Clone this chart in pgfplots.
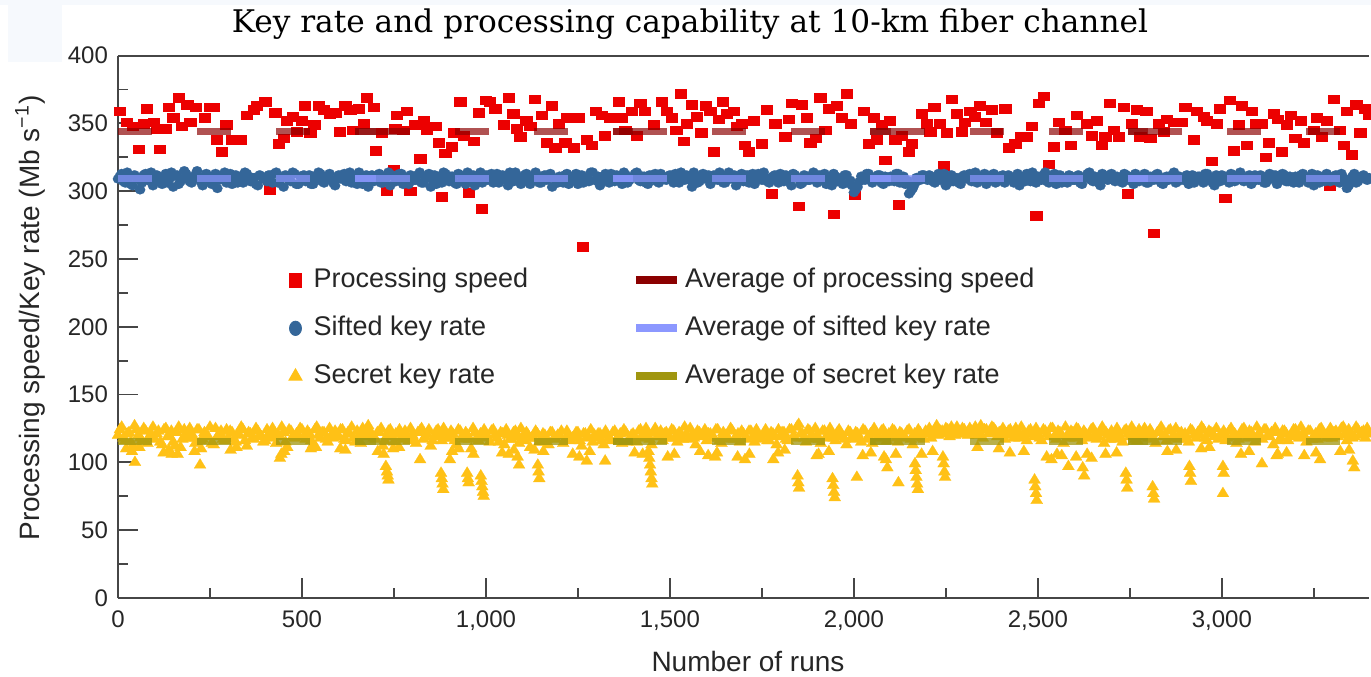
\documentclass[border=0pt]{standalone}
\usepackage{pgfplots}
\pgfplotsset{compat=1.18}
\usepackage{fontspec}
\setsansfont{Liberation Sans}
\newfontfamily\titlefont{DejaVu Serif}

\definecolor{procred}{RGB}{236,0,0}
\definecolor{siftblue}{RGB}{52,102,153}
\definecolor{secyellow}{RGB}{255,193,22}
\definecolor{avgred}{RGB}{139,0,0}
\definecolor{avgblue}{RGB}{140,152,255}
\definecolor{avgolive}{RGB}{160,150,15}
\definecolor{axisgray}{RGB}{70,70,70}
\definecolor{faintbg}{RGB}{246,249,253}

\pgfplotsset{
  legmark/.style={legend image code/.code={%
    \draw[##1] plot coordinates {(0pt,0pt)};
    \path[draw=none, fill=none] (-3.5pt,-3pt) rectangle (7pt,3pt);}},
  legline/.style={legend image code/.code={\draw[##1] (0pt,0pt) -- (20.5pt,0pt);}},
  procmarks/.style={forget plot, only marks, color=procred, mark=square*, mark size=2.15pt,
    mark options={solid, fill=procred, draw=procred, line width=0.1pt, xscale=1.3}},
  siftmarks/.style={forget plot, only marks, color=siftblue, mark=*, mark size=2.3pt,
    mark options={solid, fill=siftblue, draw=siftblue, line width=0.1pt, xscale=1.12}},
  secmarks/.style={forget plot, only marks, color=secyellow, mark=triangle*, mark size=3.3pt,
    mark options={solid, fill=secyellow, draw=secyellow, line width=0.1pt, xscale=1.05}},
  % averages are drawn per block of 700 runs, each block restarting its dashes
  avgbase/.style={forget plot, line width=3.5pt, draw opacity=0.68, dash pattern=on 17pt off 22.5pt},
  avgover/.style={forget plot, line width=3.5pt, draw opacity=0.68},
}

\begin{document}
\begin{tikzpicture}
\path[use as bounding box] (-59pt,-39pt) rectangle (626.5pt,299pt);
\fill[faintbg] (-59pt,296.5pt) rectangle (626.5pt,299pt);
\fill[faintbg] (-55pt,268pt) rectangle (-28pt,296.5pt);

\begin{axis}[
  at={(0pt,0pt)}, anchor=south west,
  scale only axis, width=625.5pt, height=271.25pt,
  xmin=0, xmax=3400, ymin=0, ymax=400,
  clip mode=individual,
  axis x line*=box, axis y line*=left,
  x axis line style={-}, y axis line style={-},
  axis line style={draw=axisgray, line width=1pt},
  xtick={0,500,...,3000}, ytick={0,50,...,400},
  minor xtick={250,750,...,3250}, minor ytick={25,75,...,375},
  xtick pos=bottom, ytick pos=left,
  tick align=inside,
  major tick length=10pt, minor tick length=5pt,
  major tick style={draw=axisgray, line width=0.9pt},
  minor tick style={draw=axisgray, line width=0.9pt},
  /pgf/number format/assume math mode=true,
  /pgf/number format/1000 sep={,},
  scaled x ticks=false,
  tick label style={font=\sffamily\fontsize{12}{14}\selectfont, text=black!85},
  xticklabel style={yshift=-3pt},
  yticklabel style={xshift=-1.5pt},
  xlabel={Number of runs},
  ylabel={Processing speed/Key rate (Mb s\textsuperscript{−1})},
  label style={font=\sffamily\fontsize{14}{16}\selectfont, text=black!85},
  xlabel style={at={(axis description cs:0.5036,-0.1161)}, anchor=center},
  ylabel style={at={(axis description cs:-0.0703,0.516)}, anchor=center},
  legend columns=2,
  legend cell align=left,
  legend style={at={(axis cs:446,250)}, anchor=north west, draw=none, fill=none,
    font=\sffamily\fontsize{13.5}{16}\selectfont, text=black!85,
    nodes={text height=10pt, text depth=3pt},
    row sep=7pt,
    /tikz/every even column/.append style={column sep=50pt}},
]

% legend entries
\addlegendimage{legmark, color=procred, mark=square*, mark size=3pt, mark options={fill=procred, draw=procred, yscale=1.15}}
\addlegendentry{Processing speed}
\addlegendimage{legline, draw=avgred, line width=4pt}
\addlegendentry{Average of processing speed}
\addlegendimage{legmark, color=siftblue, mark=*, mark size=3pt, mark options={fill=siftblue, draw=siftblue, yscale=1.2}}
\addlegendentry{Sifted key rate}
\addlegendimage{legline, draw=avgblue, line width=4pt}
\addlegendentry{Average of sifted key rate}
\addlegendimage{legmark, color=secyellow, mark=triangle*, mark size=3.8pt, mark options={fill=secyellow, draw=secyellow}}
\addlegendentry{Secret key rate}
\addlegendimage{legline, draw=avgolive, line width=4pt}
\addlegendentry{Average of secret key rate}

% processing speed
\addplot[procmarks] coordinates {
(5,359)(24,351)(40,348)(55,331)(69,350)(78,361)(96,351)(105,346)(114,331)(128,346)
(137,362)(150,354)(164,369)(173,348)(188,364)(196,351)(212,362)(236,354)(248,362)(259,362)
(268,338)(282,329)(294,349)(309,338)(332,338)(350,356)(368,360)(377,363)(400,366)(413,301)
(427,358)(436,335)(449,339)(459,352)(475,355)(486,344)(499,352)(508,363)(522,343)(533,349)
(545,363)(558,360)(576,357)(590,358)(603,344)(617,363)(631,360)(638,345)(653,361)(667,350)
(676,369)(694,362)(701,330)(717,343)(730,300)(748,316)(753,346)(757,356)(775,345)(785,359)
(794,300)(807,349)(821,324)(830,352)(839,345)(862,348)(871,336)(880,296)(889,328)(907,333)
(911,343)(930,366)(939,341)(952,299)(966,337)(979,358)(989,287)(998,367)(1011,366)(1025,361)
(1047,349)(1061,369)(1074,357)(1083,346)(1093,340)(1109,352)(1120,348)(1132,368)(1152,356)(1165,336)
(1179,363)(1188,332)(1197,350)(1215,336)(1220,354)(1238,332)(1251,354)(1263,259)(1274,338)(1288,334)
(1297,359)(1315,356)(1322,341)(1337,354)(1360,366)(1369,354)(1378,345)(1396,359)(1410,341)(1419,365)
(1432,359)(1455,349)(1478,366)(1491,359)(1505,354)(1517,345)(1528,372)(1537,337)(1546,350)(1559,364)
(1573,355)(1585,343)(1596,363)(1609,359)(1618,329)(1632,353)(1644,366)(1655,357)(1673,359)(1682,348)
(1695,350)(1704,334)(1713,329)(1727,352)(1750,335)(1763,360)(1777,298)(1786,350)(1813,340)(1822,353)
(1831,365)(1849,289)(1858,364)(1872,354)(1881,336)(1895,339)(1908,369)(1922,345)(1931,361)(1944,283)
(1953,363)(1967,354)(1981,372)(1990,350)(2003,297)(2026,359)(2040,335)(2053,354)(2062,338)(2076,349)
(2085,323)(2098,352)(2112,338)(2121,290)(2130,341)(2148,329)(2157,335)(2184,357)(2198,350)(2207,344)
(2218,362)(2234,350)(2243,319)(2252,343)(2266,368)(2280,357)(2293,344)(2302,351)(2316,359)(2329,355)
(2341,363)(2357,351)(2375,360)(2388,343)(2411,361)(2420,332)(2438,335)(2452,340)(2470,340)(2483,348)
(2495,282)(2502,365)(2515,370)(2529,320)(2542,333)(2556,351)(2574,345)(2588,334)(2606,356)(2633,350)
(2647,341)(2660,352)(2674,334)(2683,340)(2696,365)(2705,345)(2719,340)(2733,362)(2743,298)(2755,350)
(2769,360)(2778,340)(2794,359)(2805,339)(2814,269)(2828,350)(2841,344)(2850,353)(2868,351)(2891,351)
(2900,362)(2923,338)(2932,359)(2950,355)(2959,352)(2973,322)(2986,350)(2995,361)(3009,295)(3021,367)
(3032,330)(3045,349)(3054,363)(3068,334)(3081,359)(3091,350)(3109,350)(3118,325)(3127,336)(3140,357)
(3151,353)(3163,329)(3177,349)(3188,356)(3199,339)(3213,352)(3222,336)(3249,345)(3258,354)(3272,340)
(3285,352)(3294,304)(3304,368)(3321,345)(3330,334)(3340,359)(3353,327)(3365,364)(3376,343)(3389,361)
(3398,356)
};

% sifted key rate, even runs of ten
\addplot[siftmarks] coordinates {
(0,309)(10,313)(20,306)(30,311)(40,304)(50,310)(60,301)(70,312)(80,308)(90,314)
(100,307)(110,311)(120,305)(130,313)(140,309)(150,303)(160,312)(170,307)(180,315)(190,310)
(200,306)(210,312)(220,309)(230,304)(240,313)(250,308)(260,311)(270,302)(280,310)(290,314)
(300,308)(310,305)(320,312)(330,309)(340,306)(350,313)(360,307)(370,310)(380,304)(390,311)
(400,309)(410,312)(420,306)(430,314)(440,308)(450,303)(460,311)(470,307)(480,313)(490,305)
(500,310)(510,307)(520,312)(530,305)(540,309)(550,313)(560,306)(570,311)(580,308)(590,304)
(600,312)(610,309)(620,307)(630,314)(640,310)(650,305)(660,311)(670,308)(680,303)(690,312)
(700,308)(710,313)(720,306)(730,310)(740,304)(750,311)(760,309)(770,313)(780,307)(790,305)
(800,311)(810,308)(820,314)(830,306)(840,310)(850,303)(860,312)(870,309)(880,306)(890,313)
(900,307)(910,311)(920,305)(930,312)(940,309)(950,314)(960,308)(970,304)(980,310)(990,306)
(1000,312)(1010,309)(1020,306)(1030,313)(1040,308)(1050,311)(1060,304)(1070,310)(1080,314)(1090,307)
(1100,309)(1110,313)(1120,305)(1130,311)(1140,308)(1150,306)(1160,312)(1170,310)(1180,303)(1190,309)
(1200,311)(1210,306)(1220,313)(1230,308)(1240,310)(1250,305)(1260,312)(1270,309)(1280,307)(1290,314)
(1300,308)(1310,304)(1320,311)(1330,309)(1340,313)(1350,307)(1360,310)(1370,305)(1380,312)(1390,308)
(1400,310)(1410,314)(1420,307)(1430,311)(1440,305)(1450,309)(1460,313)(1470,306)(1480,310)(1490,308)
(1500,312)(1510,306)(1520,309)(1530,314)(1540,308)(1550,311)(1560,303)(1570,310)(1580,307)(1590,313)
(1600,309)(1610,305)(1620,312)(1630,308)(1640,311)(1650,306)(1660,314)(1670,309)(1680,304)(1690,310)
(1700,307)(1710,312)(1720,309)(1730,305)(1740,313)(1750,308)(1760,310)(1770,306)(1780,311)(1790,309)
(1800,313)(1810,307)(1820,310)(1830,304)(1840,312)(1850,309)(1860,306)(1870,311)(1880,308)(1890,314)
(1900,306)(1910,310)(1920,313)(1930,308)(1940,304)(1950,311)(1960,309)(1970,305)(1980,312)(1990,308)
(2000,299)(2010,303)(2020,311)(2030,308)(2040,313)(2050,306)(2060,310)(2070,312)(2080,305)(2090,309)
(2100,311)(2110,307)(2120,313)(2130,309)(2140,305)(2150,298)(2160,302)(2170,310)(2180,308)(2190,312)
(2200,308)(2210,311)(2220,306)(2230,313)(2240,309)(2250,304)(2260,311)(2270,307)(2280,310)(2290,305)
(2300,312)(2310,309)(2320,307)(2330,314)(2340,308)(2350,311)(2360,305)(2370,310)(2380,313)(2390,307)
(2400,309)(2410,306)(2420,312)(2430,308)(2440,311)(2450,304)(2460,310)(2470,313)(2480,307)(2490,309)
(2500,311)(2510,308)(2520,314)(2530,306)(2540,310)(2550,305)(2560,312)(2570,309)(2580,306)(2590,311)
(2600,308)(2610,312)(2620,305)(2630,310)(2640,314)(2650,307)(2660,309)(2670,304)(2680,311)(2690,308)
(2700,313)(2710,307)(2720,310)(2730,306)(2740,312)(2750,309)(2760,305)(2770,311)(2780,308)(2790,313)
(2800,306)(2810,310)(2820,312)(2830,308)(2840,305)(2850,311)(2860,309)(2870,314)(2880,307)(2890,310)
(2900,309)(2910,305)(2920,312)(2930,308)(2940,311)(2950,306)(2960,313)(2970,309)(2980,304)(2990,310)
(3000,312)(3010,308)(3020,306)(3030,311)(3040,309)(3050,314)(3060,307)(3070,310)(3080,305)(3090,312)
(3100,308)(3110,311)(3120,306)(3130,313)(3140,309)(3150,305)(3160,310)(3170,312)(3180,307)(3190,309)
(3200,311)(3210,306)(3220,313)(3230,308)(3240,310)(3250,304)(3260,312)(3270,309)(3280,307)(3290,311)
(3300,308)(3310,312)(3320,306)(3330,310)(3340,302)(3350,309)(3360,313)(3370,307)(3380,311)(3390,309)
(3400,310)
};
% sifted key rate, odd runs of five
\addplot[siftmarks] coordinates {
(5,311)(15,307)(25,314)(35,305)(45,312)(55,309)(65,306)(75,313)(85,310)(95,304)
(105,312)(115,308)(125,310)(135,306)(145,314)(155,311)(165,305)(175,309)(185,313)(195,307)
(205,310)(215,315)(225,307)(235,311)(245,309)(255,305)(265,313)(275,308)(285,312)(295,306)
(305,313)(315,309)(325,306)(335,311)(345,314)(355,308)(365,310)(375,305)(385,312)(395,309)
(405,307)(415,311)(425,313)(435,306)(445,310)(455,312)(465,308)(475,314)(485,305)(495,311)
(505,312)(515,308)(525,305)(535,311)(545,314)(555,307)(565,310)(575,313)(585,306)(595,309)
(605,309)(615,313)(625,311)(635,306)(645,308)(655,314)(665,305)(675,312)(685,310)(695,307)
(705,311)(715,306)(725,309)(735,314)(745,312)(755,307)(765,313)(775,305)(785,310)(795,312)
(805,308)(815,312)(825,306)(835,310)(845,313)(855,308)(865,305)(875,311)(885,314)(895,309)
(905,311)(915,306)(925,313)(935,308)(945,305)(955,310)(965,312)(975,307)(985,314)(995,311)
(1005,308)(1015,313)(1025,310)(1035,306)(1045,312)(1055,309)(1065,314)(1075,307)(1085,311)(1095,305)
(1105,312)(1115,307)(1125,310)(1135,314)(1145,306)(1155,311)(1165,308)(1175,313)(1185,309)(1195,306)
(1205,308)(1215,312)(1225,305)(1235,311)(1245,313)(1255,309)(1265,306)(1275,310)(1285,314)(1295,308)
(1305,311)(1315,307)(1325,313)(1335,306)(1345,310)(1355,312)(1365,308)(1375,314)(1385,306)(1395,310)
(1405,313)(1415,308)(1425,311)(1435,306)(1445,312)(1455,310)(1465,307)(1475,313)(1485,309)(1495,311)
(1505,308)(1515,313)(1525,306)(1535,310)(1545,312)(1555,308)(1565,314)(1575,306)(1585,311)(1595,309)
(1605,312)(1615,308)(1625,310)(1635,314)(1645,306)(1655,311)(1665,309)(1675,312)(1685,307)(1695,313)
(1705,310)(1715,306)(1725,313)(1735,309)(1745,311)(1755,314)(1765,307)(1775,310)(1785,312)(1795,306)
(1805,309)(1815,312)(1825,307)(1835,313)(1845,310)(1855,305)(1865,312)(1875,308)(1885,311)(1895,309)
(1905,312)(1915,308)(1925,305)(1935,311)(1945,313)(1955,307)(1965,310)(1975,312)(1985,306)(1995,304)
(2005,301)(2015,307)(2025,309)(2035,313)(2045,310)(2055,308)(2065,312)(2075,306)(2085,311)(2095,307)
(2105,309)(2115,313)(2125,306)(2135,311)(2145,308)(2155,300)(2165,305)(2175,308)(2185,312)(2195,310)
(2205,312)(2215,307)(2225,310)(2235,308)(2245,313)(2255,306)(2265,312)(2275,309)(2285,306)(2295,311)
(2305,309)(2315,313)(2325,311)(2335,306)(2345,310)(2355,313)(2365,308)(2375,312)(2385,306)(2395,311)
(2405,312)(2415,308)(2425,310)(2435,306)(2445,313)(2455,309)(2465,307)(2475,311)(2485,314)(2495,306)
(2505,309)(2515,312)(2525,307)(2535,311)(2545,313)(2555,308)(2565,306)(2575,310)(2585,312)(2595,308)
(2605,311)(2615,306)(2625,309)(2635,313)(2645,308)(2655,311)(2665,306)(2675,313)(2685,309)(2695,312)
(2705,309)(2715,311)(2725,307)(2735,313)(2745,308)(2755,311)(2765,313)(2775,307)(2785,310)(2795,306)
(2805,311)(2815,308)(2825,313)(2835,306)(2845,310)(2855,308)(2865,312)(2875,306)(2885,311)(2895,308)
(2905,312)(2915,308)(2925,306)(2935,311)(2945,309)(2955,313)(2965,308)(2975,306)(2985,312)(2995,307)
(3005,309)(3015,311)(3025,313)(3035,307)(3045,312)(3055,308)(3065,310)(3075,312)(3085,307)(3095,309)
(3105,312)(3115,306)(3125,310)(3135,309)(3145,312)(3155,308)(3165,313)(3175,307)(3185,311)(3195,306)
(3205,308)(3215,312)(3225,310)(3235,306)(3245,313)(3255,308)(3265,306)(3275,311)(3285,313)(3295,307)
(3305,311)(3315,307)(3325,313)(3335,308)(3345,304)(3355,311)(3365,306)(3375,310)(3385,312)(3395,308)
};

% secret key rate, even runs of ten
\addplot[secmarks] coordinates {
(0,120)(10,126)(20,116)(30,122)(40,112)(50,124)(60,118)(70,125)(80,114)(90,121)
(100,117)(110,123)(120,113)(130,125)(140,119)(150,115)(160,122)(170,111)(180,124)(190,118)
(200,121)(210,114)(220,124)(230,117)(240,120)(250,126)(260,113)(270,119)(280,123)(290,116)
(300,118)(310,122)(320,115)(330,120)(340,124)(350,112)(360,121)(370,117)(380,123)(390,119)
(400,116)(410,121)(420,125)(430,114)(440,119)(450,122)(460,111)(470,123)(480,118)(490,120)
(500,124)(510,117)(520,121)(530,113)(540,126)(550,118)(560,122)(570,115)(580,120)(590,123)
(600,119)(610,124)(620,116)(630,121)(640,118)(650,123)(660,114)(670,122)(680,127)(690,120)
(700,117)(710,122)(720,112)(730,119)(740,124)(750,115)(760,121)(770,118)(780,123)(790,116)
(800,120)(810,114)(820,123)(830,117)(840,121)(850,112)(860,119)(870,124)(880,116)(890,122)
(900,118)(910,121)(920,113)(930,123)(940,117)(950,120)(960,110)(970,122)(980,116)(990,119)
(1000,121)(1010,115)(1020,124)(1030,118)(1040,122)(1050,113)(1060,120)(1070,117)(1080,123)(1090,114)
(1100,119)(1110,122)(1120,111)(1130,118)(1140,121)(1150,115)(1160,120)(1170,113)(1180,122)(1190,117)
(1200,120)(1210,114)(1220,123)(1230,116)(1240,119)(1250,122)(1260,112)(1270,121)(1280,118)(1290,115)
(1300,118)(1310,121)(1320,113)(1330,120)(1340,116)(1350,123)(1360,119)(1370,114)(1380,122)(1390,117)
(1400,121)(1410,115)(1420,124)(1430,118)(1440,120)(1450,113)(1460,125)(1470,119)(1480,116)(1490,122)
(1500,118)(1510,123)(1520,115)(1530,121)(1540,126)(1550,117)(1560,120)(1570,113)(1580,122)(1590,119)
(1600,116)(1610,121)(1620,118)(1630,124)(1640,114)(1650,120)(1660,117)(1670,123)(1680,119)(1690,115)
(1700,121)(1710,117)(1720,123)(1730,115)(1740,120)(1750,118)(1760,124)(1770,116)(1780,121)(1790,113)
(1800,119)(1810,122)(1820,116)(1830,124)(1840,118)(1850,128)(1860,121)(1870,115)(1880,123)(1890,117)
(1900,120)(1910,114)(1920,123)(1930,118)(1940,121)(1950,116)(1960,124)(1970,119)(1980,113)(1990,122)
(2000,117)(2010,121)(2020,115)(2030,123)(2040,119)(2050,114)(2060,122)(2070,118)(2080,124)(2090,116)
(2100,120)(2110,123)(2120,115)(2130,121)(2140,118)(2150,124)(2160,113)(2170,119)(2180,122)(2190,117)
(2200,121)(2210,118)(2220,124)(2230,120)(2240,123)(2250,125)(2260,119)(2270,122)(2280,126)(2290,121)
(2300,124)(2310,120)(2320,123)(2330,126)(2340,121)(2350,118)(2360,124)(2370,122)(2380,125)(2390,119)
(2400,122)(2410,117)(2420,123)(2430,120)(2440,125)(2450,118)(2460,121)(2470,116)(2480,124)(2490,119)
(2500,121)(2510,116)(2520,123)(2530,119)(2540,125)(2550,117)(2560,122)(2570,114)(2580,120)(2590,123)
(2600,118)(2610,124)(2620,116)(2630,121)(2640,119)(2650,125)(2660,117)(2670,122)(2680,114)(2690,120)
(2700,123)(2710,117)(2720,121)(2730,115)(2740,124)(2750,119)(2760,122)(2770,116)(2780,120)(2790,125)
(2800,118)(2810,121)(2820,114)(2830,123)(2840,119)(2850,116)(2860,124)(2870,120)(2880,117)(2890,122)
(2900,121)(2910,115)(2920,123)(2930,118)(2940,120)(2950,124)(2960,116)(2970,122)(2980,119)(2990,117)
(3000,120)(3010,116)(3020,123)(3030,119)(3040,114)(3050,121)(3060,125)(3070,118)(3080,122)(3090,115)
(3100,121)(3110,117)(3120,124)(3130,119)(3140,113)(3150,122)(3160,118)(3170,123)(3180,116)(3190,120)
(3200,124)(3210,118)(3220,121)(3230,115)(3240,123)(3250,119)(3260,117)(3270,125)(3280,120)(3290,122)
(3300,118)(3310,123)(3320,120)(3330,126)(3340,116)(3350,121)(3360,119)(3370,124)(3380,122)(3390,118)
(3400,121)
};
% secret key rate, odd runs of five
\addplot[secmarks] coordinates {
(5,124)(15,118)(25,121)(35,115)(45,127)(55,120)(65,116)(75,123)(85,119)(95,126)
(105,121)(115,115)(125,124)(135,119)(145,123)(155,112)(165,126)(175,117)(185,121)(195,125)
(205,118)(215,124)(225,116)(235,122)(245,119)(255,114)(265,125)(275,121)(285,117)(295,124)
(305,123)(315,117)(325,121)(335,126)(345,116)(355,122)(365,118)(375,125)(385,120)(395,115)
(405,124)(415,118)(425,122)(435,120)(445,126)(455,115)(465,124)(475,119)(485,121)(495,125)
(505,119)(515,123)(525,116)(535,124)(545,120)(555,122)(565,117)(575,125)(585,118)(595,121)
(605,124)(615,117)(625,122)(635,126)(645,115)(655,120)(665,125)(675,119)(685,123)(695,118)
(705,122)(715,125)(725,116)(735,123)(745,119)(755,121)(765,124)(775,117)(785,120)(795,125)
(805,117)(815,122)(825,125)(835,119)(845,124)(855,116)(865,123)(875,120)(885,125)(895,118)
(905,123)(915,116)(925,124)(935,119)(945,122)(955,117)(965,125)(975,118)(985,121)(995,124)
(1005,118)(1015,123)(1025,120)(1035,115)(1045,121)(1055,124)(1065,117)(1075,122)(1085,119)(1095,125)
(1105,116)(1115,120)(1125,118)(1135,123)(1145,115)(1155,121)(1165,117)(1175,122)(1185,118)(1195,120)
(1205,123)(1215,117)(1225,120)(1235,118)(1245,122)(1255,116)(1265,121)(1275,119)(1285,124)(1295,120)
(1305,121)(1315,116)(1325,123)(1335,118)(1345,122)(1355,117)(1365,121)(1375,124)(1385,115)(1395,120)
(1405,118)(1415,123)(1425,120)(1435,125)(1445,117)(1455,122)(1465,119)(1475,123)(1485,121)(1495,118)
(1505,124)(1515,119)(1525,122)(1535,117)(1545,121)(1555,125)(1565,118)(1575,123)(1585,120)(1595,124)
(1605,121)(1615,118)(1625,124)(1635,116)(1645,122)(1655,119)(1665,125)(1675,117)(1685,121)(1695,123)
(1705,118)(1715,123)(1725,119)(1735,124)(1745,117)(1755,121)(1765,116)(1775,122)(1785,119)(1795,124)
(1805,122)(1815,117)(1825,124)(1835,119)(1845,126)(1855,121)(1865,118)(1875,124)(1885,120)(1895,125)
(1905,117)(1915,123)(1925,119)(1935,125)(1945,118)(1955,122)(1965,120)(1975,117)(1985,123)(1995,119)
(2005,122)(2015,118)(2025,124)(2035,117)(2045,121)(2055,125)(2065,119)(2075,123)(2085,120)(2095,121)
(2105,124)(2115,118)(2125,122)(2135,119)(2145,123)(2155,117)(2165,121)(2175,124)(2185,118)(2195,123)
(2205,125)(2215,122)(2225,127)(2235,123)(2245,121)(2255,124)(2265,126)(2275,120)(2285,123)(2295,125)
(2305,121)(2315,125)(2325,122)(2335,120)(2345,127)(2355,124)(2365,121)(2375,126)(2385,123)(2395,122)
(2405,125)(2415,121)(2425,124)(2435,118)(2445,122)(2455,126)(2465,119)(2475,123)(2485,121)(2495,125)
(2505,118)(2515,124)(2525,121)(2535,125)(2545,119)(2555,123)(2565,120)(2575,126)(2585,118)(2595,122)
(2605,125)(2615,120)(2625,123)(2635,118)(2645,124)(2655,121)(2665,119)(2675,126)(2685,122)(2695,117)
(2705,120)(2715,125)(2725,118)(2735,123)(2745,121)(2755,126)(2765,117)(2775,124)(2785,119)(2795,122)
(2805,124)(2815,117)(2825,122)(2835,126)(2845,120)(2855,123)(2865,118)(2875,125)(2885,121)(2895,119)
(2905,117)(2915,124)(2925,120)(2935,122)(2945,126)(2955,118)(2965,123)(2975,121)(2985,125)(2995,120)
(3005,123)(3015,118)(3025,125)(3035,121)(3045,117)(3055,124)(3065,120)(3075,123)(3085,119)(3095,126)
(3105,118)(3115,124)(3125,120)(3135,122)(3145,125)(3155,116)(3165,123)(3175,121)(3185,119)(3195,124)
(3205,120)(3215,126)(3225,119)(3235,123)(3245,117)(3255,121)(3265,124)(3275,122)(3285,118)(3295,125)
(3305,122)(3315,119)(3325,125)(3335,121)(3345,124)(3355,118)(3365,126)(3375,120)(3385,123)(3395,125)
% runs just under the band
(22,110)(38,108)(58,111)(124,107)(138,109)(162,106)(208,108)(226,110)(306,109)(322,111)
(444,106)(452,108)(524,110)(538,111)(604,110)(618,109)(706,108)(722,106)(748,110)(764,111)
(908,108)(926,110)(1044,107)(1062,106)(1076,109)(1132,109)(1156,108)(1236,106)(1254,104)(1282,108)
(1404,107)(1426,106)(1494,104)(1512,106)(1604,105)(1628,107)(1684,104)(1716,106)(1794,107)(1812,109)
(1904,106)(1932,108)(2024,105)(2046,107)(2082,104)(2114,106)(2184,106)(2214,108)(2336,111)(2394,110)
(2424,107)(2462,108)(2524,104)(2552,106)(2604,104)(2634,106)(2684,106)(2714,107)(2852,108)(2876,109)
(2944,110)(2966,111)(3052,106)(3074,108)(3152,106)(3176,107)(3224,105)(3256,107)(3322,108)(3346,109)
% runs that fall below the band
(46,100)(146,106)(223,98)(440,103)(728,97)(731,93)(733,90)(735,87)(821,102)
(878,92)(880,88)(882,84)(884,80)(902,102)(949,92)(951,88)(953,85)(966,106)
(986,90)(988,86)(990,82)(992,78)(994,75)(1086,104)(1090,98)(1141,98)(1143,93)(1145,88)
(1274,101)(1324,101)(1442,108)(1444,103)(1446,98)(1448,93)(1450,88)(1452,84)
(1582,108)(1623,104)(1704,102)(1781,102)(1847,90)(1849,85)(1851,81)(1899,105)
(1942,88)(1944,83)(1946,78)(1948,74)(2008,89)(2087,102)(2091,96)(2121,85)
(2166,99)(2168,94)(2170,89)(2172,84)(2174,80)(2242,104)(2244,99)(2246,93)(2248,89)
(2491,87)(2493,82)(2495,77)(2497,72)(2537,102)(2565,105)(2583,97)(2622,96)(2626,90)(2646,103)
(2739,92)(2741,87)(2743,81)(2812,82)(2814,77)(2816,73)(2912,97)(2914,92)(2916,86)
(3003,97)(3005,92)(3003,77)(3109,99)(3149,105)(3267,102)(3356,101)(3360,96)
};

% block averages: processing speed
\addplot[avgbase, draw=avgred] coordinates {(0,344)(700,344)};
\addplot[avgbase, draw=avgred] coordinates {(700,344)(1400,344)};
\addplot[avgbase, draw=avgred] coordinates {(1400,344)(2100,344)};
\addplot[avgbase, draw=avgred] coordinates {(2100,344)(2800,344)};
\addplot[avgbase, draw=avgred] coordinates {(2800,344)(3400,344)};
\addplot[avgover, draw=avgred] coordinates {(644,344)(700,344)};
\addplot[avgover, draw=avgred] coordinates {(1344,344)(1400,344)};
\addplot[avgover, draw=avgred] coordinates {(2044,344)(2100,344)};
\addplot[avgover, draw=avgred] coordinates {(2744,344)(2800,344)};
% block averages: sifted key rate
\addplot[avgbase, draw=avgblue] coordinates {(0,309)(700,309)};
\addplot[avgbase, draw=avgblue] coordinates {(700,309)(1400,309)};
\addplot[avgbase, draw=avgblue] coordinates {(1400,309)(2100,309)};
\addplot[avgbase, draw=avgblue] coordinates {(2100,309)(2800,309)};
\addplot[avgbase, draw=avgblue] coordinates {(2800,309)(3400,309)};
\addplot[avgover, draw=avgblue] coordinates {(644,309)(700,309)};
\addplot[avgover, draw=avgblue] coordinates {(1344,309)(1400,309)};
\addplot[avgover, draw=avgblue] coordinates {(2044,309)(2100,309)};
\addplot[avgover, draw=avgblue] coordinates {(2744,309)(2800,309)};
% block averages: secret key rate
\addplot[avgbase, draw=avgolive, draw opacity=0.75] coordinates {(0,115.5)(700,115.5)};
\addplot[avgbase, draw=avgolive, draw opacity=0.75] coordinates {(700,115.5)(1400,115.5)};
\addplot[avgbase, draw=avgolive, draw opacity=0.75] coordinates {(1400,115.5)(2100,115.5)};
\addplot[avgbase, draw=avgolive, draw opacity=0.75] coordinates {(2100,115.5)(2800,115.5)};
\addplot[avgbase, draw=avgolive, draw opacity=0.75] coordinates {(2800,115.5)(3400,115.5)};
\addplot[avgover, draw=avgolive, draw opacity=0.75] coordinates {(644,115.5)(700,115.5)};
\addplot[avgover, draw=avgolive, draw opacity=0.75] coordinates {(1344,115.5)(1400,115.5)};
\addplot[avgover, draw=avgolive, draw opacity=0.75] coordinates {(2044,115.5)(2100,115.5)};
\addplot[avgover, draw=avgolive, draw opacity=0.75] coordinates {(2744,115.5)(2800,115.5)};
\end{axis}

\node[font=\titlefont\fontsize{15.6}{18}\selectfont] at (286pt,287pt)
  {Key rate and processing capability at 10-km fiber channel};
\end{tikzpicture}
\end{document}
